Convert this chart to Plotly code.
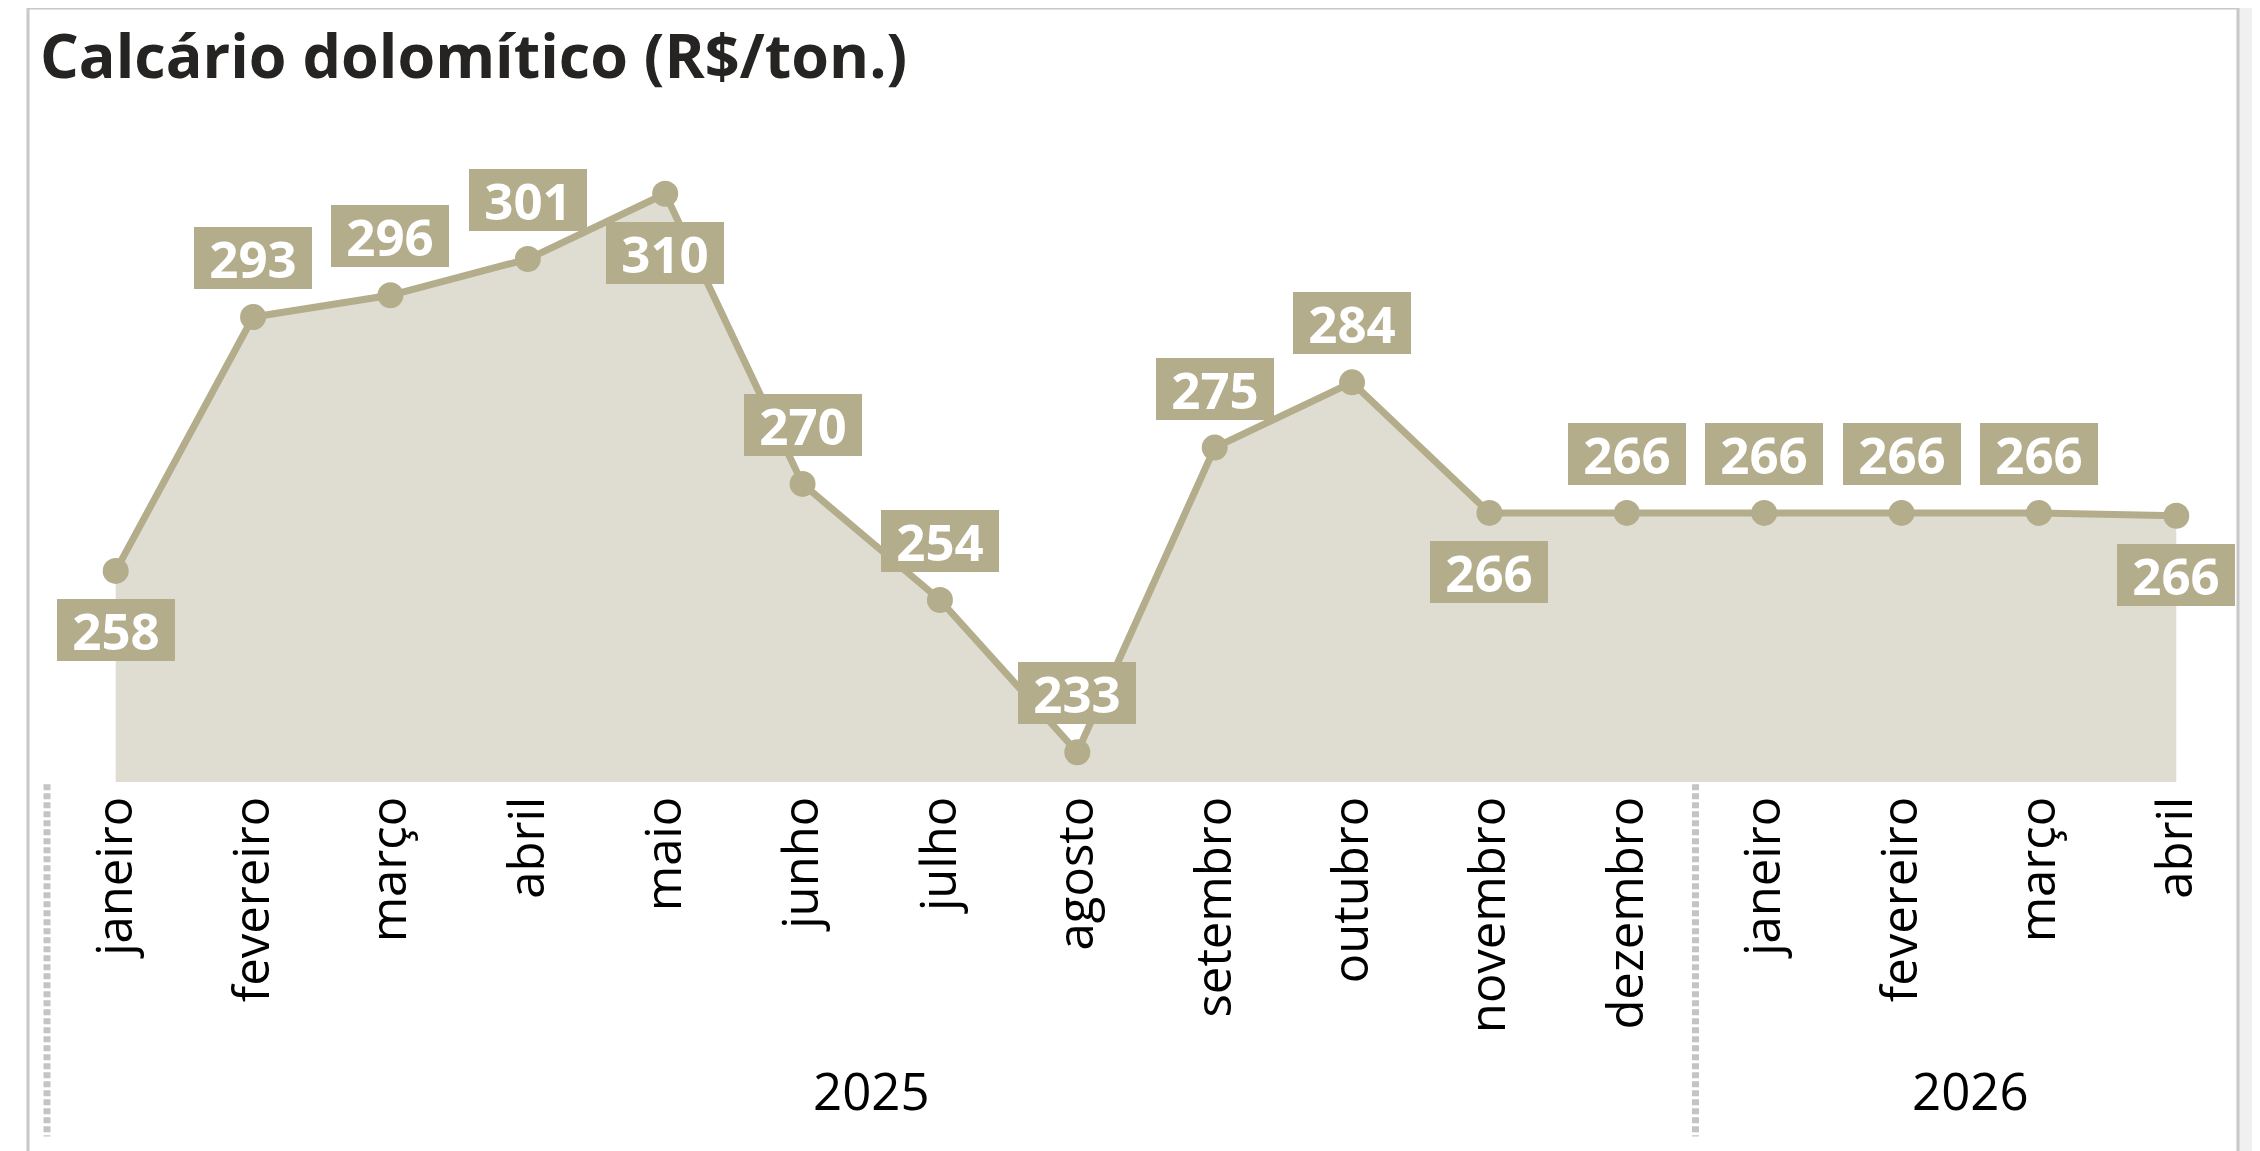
import plotly.graph_objects as go

# ---------------- data ----------------
months = ["janeiro", "fevereiro", "março", "abril", "maio", "junho", "julho",
          "agosto", "setembro", "outubro", "novembro", "dezembro",
          "janeiro", "fevereiro", "março", "abril"]
years = ["2025"] * 12 + ["2026"] * 4
prices = [258, 293, 296, 301, 310, 270, 254, 233, 275, 284, 266, 266, 266, 266, 266, 265.6]
label_side = ["below", "above", "above", "above", "below", "above", "above", "above",
              "above", "above", "below", "above", "above", "above", "above", "below"]
title_text = "Calcário dolomítico (R$/ton.)"

# ---------------- style ----------------
W, H = 2260, 1151
OFF = 8  # page body margin offset
PLOT_L, PLOT_R, PLOT_T, PLOT_B = 47, 2245, 120, 781.7   # page pixel coords
ML = PLOT_L - OFF
MR = W - (PLOT_R - OFF)
MT = PLOT_T - OFF
MB = H - (PLOT_B - OFF)
LINE = "#b3ad8c"
FILL = "#dfddd1"
FONT = "Open Sans"

plot_w = W - ML - MR
plot_h = H - MT - MB


def px_x(p):
    return (p - OFF - ML) / plot_w


def px_y(p):
    return (H - MB - (p - OFF)) / plot_h


xs = list(range(len(prices)))
x_range = [-0.5, len(prices) - 0.5]


def data_to_paper_x(v):
    return (v - x_range[0]) / (x_range[1] - x_range[0])


fig = go.Figure()
fig.add_trace(go.Scatter(
    x=xs, y=prices, mode="lines+markers",
    line=dict(color=LINE, width=7),
    marker=dict(color=LINE, size=26),
    fill="tozeroy", fillcolor=FILL,
    hoverinfo="skip", showlegend=False,
))

annotations = []
for x, v, side in zip(xs, prices, label_side):
    annotations.append(dict(
        x=x, y=v, xref="x", yref="y", text=f"<b>{v:.0f}</b>", showarrow=False,
        xanchor="center", yanchor="middle",
        yshift=(59 if side == "above" else -59),
        font=dict(family=FONT, size=51, color="white"),
        bgcolor=LINE, borderwidth=0, borderpad=0, width=118, height=62,
    ))

# year group labels and separators
groups = []
for yr in dict.fromkeys(years):
    idx = [i for i, y in enumerate(years) if y == yr]
    groups.append((yr, idx))

shapes = []
for yr, idx in groups:
    annotations.append(dict(
        x=(idx[0] + idx[-1]) / 2, y=px_y(1090), xref="x", yref="paper",
        text=yr, showarrow=False, xanchor="center", yanchor="middle",
        font=dict(family=FONT, size=51, color="#000000"),
    ))
    sx = data_to_paper_x(idx[0] - 0.5)
    shapes.append(dict(
        type="line", xref="paper", yref="paper",
        x0=sx, x1=sx, y0=px_y(784), y1=px_y(1136),
        line=dict(color="#c4c4c4", width=7, dash="6px,3px"),
    ))

# title
annotations.append(dict(
    x=px_x(38), y=px_y(55), xref="paper", yref="paper", text=f"<b>{title_text}</b>",
    showarrow=False, xanchor="left", yanchor="middle",
    font=dict(family=FONT, size=61, color="#252423"),
))

# visual frame
shapes += [
    dict(type="rect", xref="paper", yref="paper", x0=px_x(2239), x1=px_x(W + 20),
         y0=px_y(-20), y1=px_y(H + 20), fillcolor="#f0f0f0", line=dict(width=0), layer="below"),
    dict(type="rect", xref="paper", yref="paper", x0=px_x(-20), x1=px_x(2239),
         y0=px_y(-20), y1=px_y(7), fillcolor="#f7f7f7", line=dict(width=0), layer="below"),
    dict(type="line", xref="paper", yref="paper", x0=px_x(28), x1=px_x(28),
         y0=px_y(8), y1=px_y(H + 20), line=dict(color="#c8c8c8", width=3)),
    dict(type="line", xref="paper", yref="paper", x0=px_x(28), x1=px_x(2238),
         y0=px_y(8), y1=px_y(8), line=dict(color="#c8c8c8", width=3)),
    dict(type="line", xref="paper", yref="paper", x0=px_x(2238), x1=px_x(2238),
         y0=px_y(8), y1=px_y(H + 20), line=dict(color="#c8c8c8", width=3)),
]

fig.update_layout(
    width=W, height=H,
    margin=dict(l=ML, r=MR, t=MT, b=MB, pad=0),
    paper_bgcolor="white", plot_bgcolor="white",
    xaxis=dict(
        range=x_range, tickmode="array", tickvals=xs, ticktext=months,
        tickangle=-90, tickfont=dict(family=FONT, size=49, color="#000000"),
        showgrid=False, zeroline=False, showline=False, ticks="", ticklabelstandoff=4,
        fixedrange=True,
    ),
    yaxis=dict(
        range=[228.9, 228.9 + plot_h / 7.25], visible=False, showgrid=False,
        zeroline=False, fixedrange=True,
    ),
    annotations=annotations, shapes=shapes,
)

fig.write_html("out.html")
